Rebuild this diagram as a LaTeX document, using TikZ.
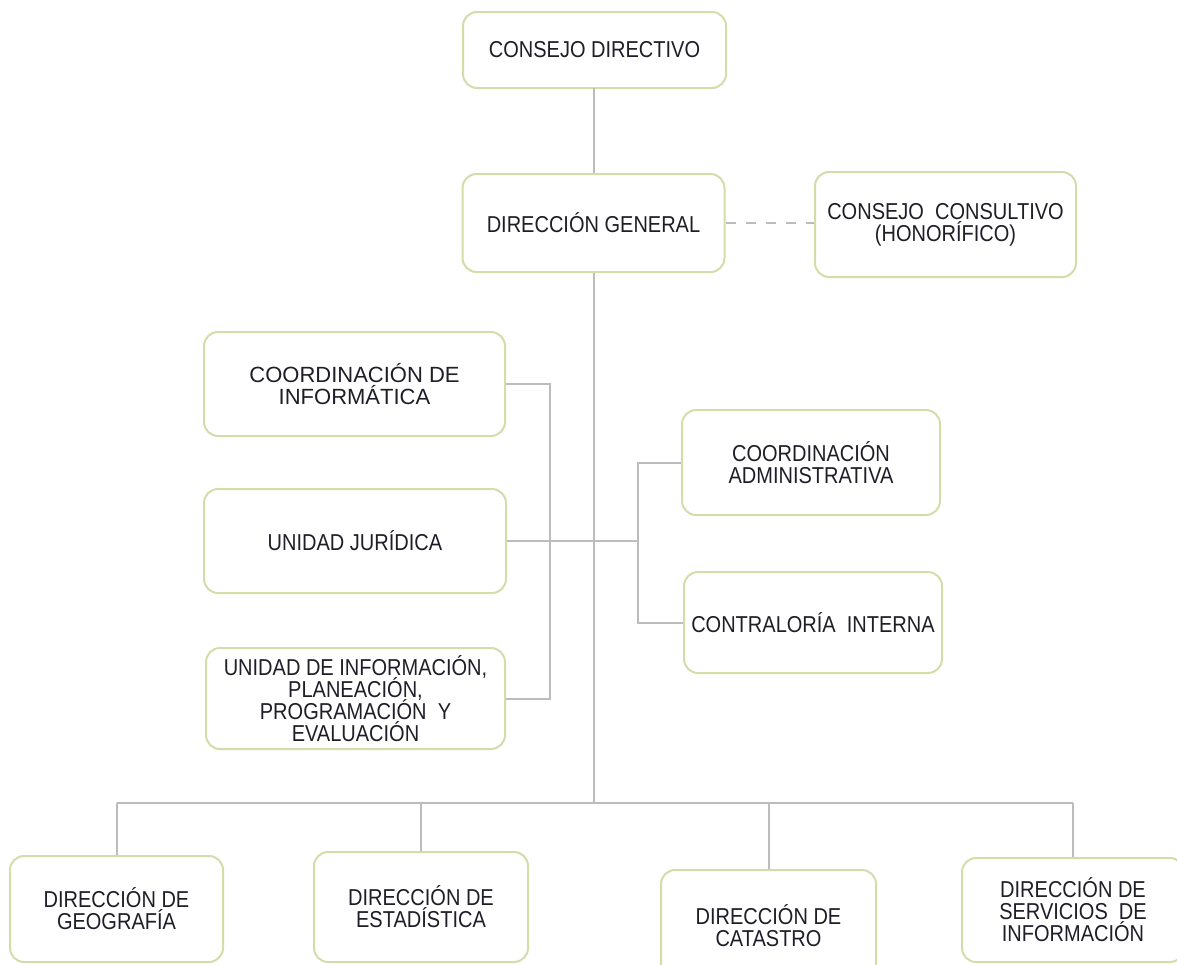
\documentclass[tikz,border=0pt]{standalone}
\usepackage{fontspec}
\setmainfont{Liberation Sans}[FakeStretch=0.87]
\newfontfamily\widefont{Liberation Sans}
\usepackage{xcolor}

\definecolor{boxline}{RGB}{214,219,170}
\definecolor{connline}{RGB}{188,188,188}
\definecolor{boxtext}{RGB}{30,30,40}

\newcommand\boxfont{\fontsize{11.5}{11}\selectfont\lineskiplimit=-6pt\relax}
\newcommand\wideboxfont{\widefont\fontsize{11}{11}\selectfont\lineskiplimit=-6pt\relax}

\begin{document}
\begin{tikzpicture}[x=0.5pt,y=-0.5pt,
        unitbox/.style={draw=boxline, line width=1pt, rounded corners=7pt, fill=white,
            align=center, text=boxtext, inner sep=2pt, font=\boxfont},
        link/.style={draw=connline, line width=1pt},
        advisory/.style={link, dash pattern=on 5pt off 5pt}]

            \useasboundingbox (0,0) rectangle (1177,964);

            % Consejo directivo y direccion general
            \node[unitbox, minimum width=131.5pt, minimum height=38pt] (cd) at (594.5,50) {CONSEJO DIRECTIVO};
            \node[unitbox, minimum width=131pt, minimum height=49pt] (dg) at (593.5,223) {DIRECCIÓN GENERAL};
            \node[unitbox, minimum width=130.5pt, minimum height=52.5pt] (cc) at (945.5,224.5) {CONSEJO\ \ CONSULTIVO\\(HONORÍFICO)};

            % Unidades de apoyo (izquierda)
            \node[unitbox, minimum width=150.5pt, minimum height=52pt, font=\wideboxfont] (ci) at (354.5,384) {COORDINACIÓN DE\\INFORMÁTICA};
            \node[unitbox, minimum width=151pt, minimum height=52pt] (uj) at (355,541) {UNIDAD JURÍDICA};
            \node[unitbox, minimum width=149.5pt, minimum height=50.5pt] (uipe) at (355.5,698.5) {UNIDAD DE INFORMACIÓN,\\PLANEACIÓN,\\PROGRAMACIÓN\ \ Y\\EVALUACIÓN};

            % Unidades de apoyo (derecha)
            \node[unitbox, minimum width=129pt, minimum height=52.5pt] (ca) at (811,462.5) {COORDINACIÓN\\ADMINISTRATIVA};
            \node[unitbox, minimum width=129pt, minimum height=50.5pt] (cin) at (813,622.5) {CONTRALORÍA\ \ INTERNA};

            % Direcciones de area
            \node[unitbox, minimum width=106.5pt, minimum height=53pt] (geo) at (116.5,909) {DIRECCIÓN DE\\GEOGRAFÍA};
            \node[unitbox, minimum width=107pt, minimum height=55pt] (est) at (421,907) {DIRECCIÓN DE\\ESTADÍSTICA};
            \node[unitbox, minimum width=107.5pt, minimum height=56pt] (cat) at (768.5,926) {DIRECCIÓN DE\\CATASTRO};
            \node[unitbox, minimum width=111pt, minimum height=52pt] (ser) at (1073,910) {DIRECCIÓN DE\\SERVICIOS\ \ DE\\INFORMACIÓN};

            % Puntos de union
            \coordinate (lb) at (550,541); % bracket izquierdo
            \coordinate (rb) at (638,541); % bracket derecho
            \coordinate (bus) at (594,803); % barra inferior

            % Conexiones
            \draw[link] (cd.south) -- (dg.south |- cd.south) -- (dg.north);
            \draw[advisory] (dg.east) -- (cc.west |- dg.east);
            \draw[link] (dg.south) -- (dg.south |- bus); % tronco
            \draw[link] (ci.east) -| (lb) |- (uipe.east);
            \draw[link] (uj.east) -- (rb);
            \draw[link] (ca.west) -| (rb) |- (cin.west);
            \draw[link] (geo.north |- bus) -- (ser.north |- bus);
            \foreach \d in {geo,est,cat,ser}
                \draw[link] (\d.north) -- (\d.north |- bus);

        \end{tikzpicture}
\end{document}
